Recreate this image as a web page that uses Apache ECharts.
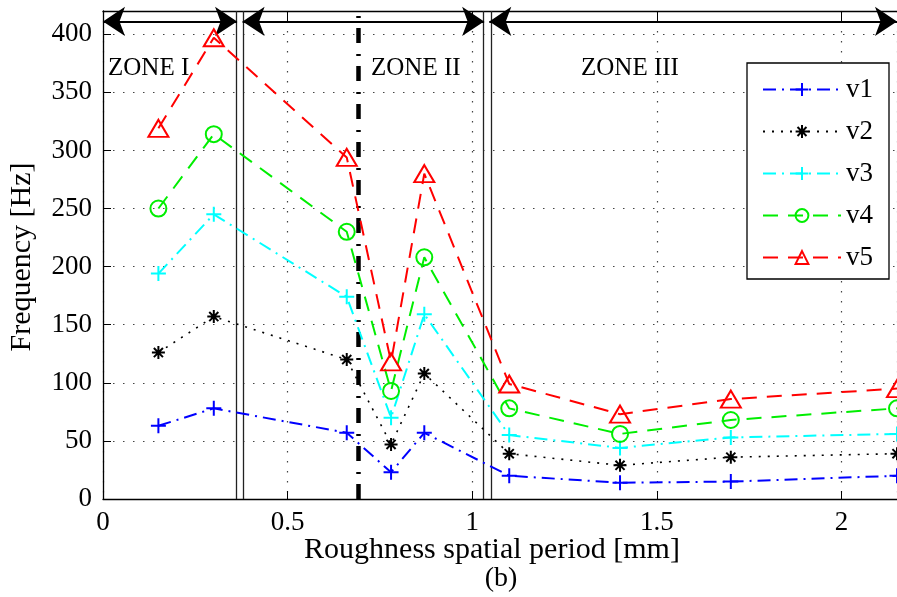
<!DOCTYPE html>
<html>
<head>
<meta charset="utf-8">
<script src="https://cdn.jsdelivr.net/npm/echarts@6/dist/echarts.min.js"></script>
<style>
html, body { margin: 0; padding: 0; background: #fff; }
#chart { width: 897px; height: 597px; }
</style>
</head>
<body>
<div id="chart"></div>
<script>
// roughness spatial period [mm]
var period = [0.15, 0.3, 0.66, 0.78, 0.87, 1.1, 1.4, 1.7, 2.15];
// frequencies [Hz]
var v1 = [63, 78, 57, 23, 57, 20, 14, 15, 20];
var v2 = [126, 157, 120, 47, 108, 39, 29, 36, 39];
var v3 = [194, 245, 174, 70, 159, 55, 44, 53, 56];
var v4 = [250, 314, 230, 93, 208, 78, 56, 68, 78];
var v5 = [319, 397, 294, 118, 280, 99, 73, 86, 95];

var zoneNames = ['ZONE I', 'ZONE II', 'ZONE III'];
var zoneStart = [0, 0.378, 1.046];
var zoneEnd = [0.363, 1.032, 2.15];
var zoneLines = [0.363, 0.378, 1.032, 1.046];
var splitLine = 0.692;
var arrowY = 411;

var serif = 'Liberation Serif';

var plusPath = 'path://M0,-1L0,1M-1,0L1,0';
var starPath = 'path://M0,-1L0,1M-1,0L1,0M-0.7,-0.7L0.7,0.7M-0.7,0.7L0.7,-0.7';
var triPath = 'path://M0,-1L1.1,0.9L-1.1,0.9Z';

function pts(vals) {
	return period.map(function (x, i) { return [x, vals[i]]; });
}

function mkLine(name, vals, color, symbol, size, dash, width) {
	return {
		name: name,
		type: 'line',
		data: pts(vals),
		symbol: symbol,
		symbolSize: size,
		showAllSymbol: true,
		clip: true,
		lineStyle: { color: color, width: width, type: dash },
		itemStyle: { color: 'rgba(0,0,0,0)', borderColor: color, borderWidth: 2 },
		emphasis: { disabled: true },
		animation: false,
		z: 5
	};
}

var chart = echarts.init(document.getElementById('chart'));

var vLines = zoneLines.map(function (x) {
	return { xAxis: x, lineStyle: { color: '#222', width: 1.3, type: 'solid' } };
});
vLines.push({ xAxis: splitLine, lineStyle: { color: '#000', width: 4.5, type: [15, 10, 2, 11] } });

var arrows = zoneStart.map(function (x0, i) {
	return [{ coord: [x0, arrowY] }, { coord: [zoneEnd[i], arrowY] }];
});

var zoneLabelX = [108, 371, 581];

option = {
	backgroundColor: '#fff',
	animation: false,
	grid: { left: 103, right: 0, top: 11, bottom: 98 },
	xAxis: [
		{
			type: 'value',
			min: 0, max: 2.15, interval: 0.5,
			axisLine: { show: true, lineStyle: { color: '#000', width: 1.3 } },
			axisTick: { show: true, inside: true, length: 8, lineStyle: { color: '#000' } },
			axisLabel: { color: '#000', fontFamily: serif, fontSize: 27, margin: 10, showMaxLabel: false },
			splitLine: { show: true, lineStyle: { color: '#444', width: 1.2, type: [1.5, 8.5] } }
		},
		{
			type: 'value', position: 'top',
			min: 0, max: 2.15, interval: 0.5,
			axisLine: { show: true, lineStyle: { color: '#000', width: 1.3 } },
			axisTick: { show: true, inside: true, length: 10, lineStyle: { color: '#000' } },
			axisLabel: { show: false },
			splitLine: { show: false }
		}
	],
	yAxis: {
		type: 'value',
		min: 0, max: 420, interval: 50,
		axisLine: { show: true, lineStyle: { color: '#000', width: 1.3 } },
		axisTick: { show: true, inside: true, length: 8, lineStyle: { color: '#000' } },
		axisLabel: { color: '#000', fontFamily: serif, fontSize: 27, margin: 11, showMaxLabel: false },
		splitLine: { show: true, lineStyle: { color: '#444', width: 1.2, type: [1.5, 8.5] } }
	},
	legend: {
		orient: 'vertical',
		left: 747, top: 63,
		padding: [13, 16, 8, 15],
		itemGap: 15,
		itemWidth: 78,
		itemHeight: 16,
		backgroundColor: '#fff',
		borderColor: '#000',
		borderWidth: 1.3,
		borderRadius: 0,
		textStyle: { color: '#000', fontFamily: serif, fontSize: 27, lineHeight: 26 },
		data: ['v1', 'v2', 'v3', 'v4', 'v5']
	},
	graphic: [
		{ type: 'text', x: 22, y: 257, rotation: Math.PI / 2,
			style: { text: 'Frequency [Hz]', font: '30px ' + serif, fill: '#000', align: 'center', verticalAlign: 'middle' } },
		{ type: 'text', x: 492, y: 550,
			style: { text: 'Roughness spatial period [mm]', font: '30px ' + serif, fill: '#000', align: 'center', verticalAlign: 'middle' } },
		{ type: 'text', x: 501, y: 579,
			style: { text: '(b)', font: '28px ' + serif, fill: '#000', align: 'center', verticalAlign: 'middle' } }
	].concat(zoneNames.map(function (t, i) {
		return { type: 'text', x: zoneLabelX[i], y: 68, z: 3,
			style: { text: t, font: '25px ' + serif, fill: '#000', align: 'left', verticalAlign: 'middle' } };
	})),
	series: [
		mkLine('v1', v1, '#0000ff', plusPath, 15, [13, 6, 2, 6], 2),
		mkLine('v2', v2, '#000000', starPath, 13, [2, 7], 1.6),
		mkLine('v3', v3, '#00ffff', plusPath, 15, [13, 6, 2, 6], 2),
		mkLine('v4', v4, '#00ee00', 'circle', 16, [15, 10], 2),
		mkLine('v5', v5, '#ff0000', triPath, [20, 17], [15, 10], 2),
		{
			type: 'line', data: [], silent: true,
			markLine: {
				silent: true, symbol: 'none', label: { show: false },
				emphasis: { disabled: true }, animation: false,
				data: vLines
			},
			z: 2
		},
		{
			type: 'line', data: [], silent: true,
			markLine: {
				silent: true, symbol: ['arrow', 'arrow'], symbolSize: 22,
				label: { show: false }, emphasis: { disabled: true }, animation: false,
				lineStyle: { color: '#000', width: 2.2, type: 'solid' },
				data: arrows
			},
			z: 6
		}
	]
};

chart.setOption(option);
</script>
</body>
</html>
